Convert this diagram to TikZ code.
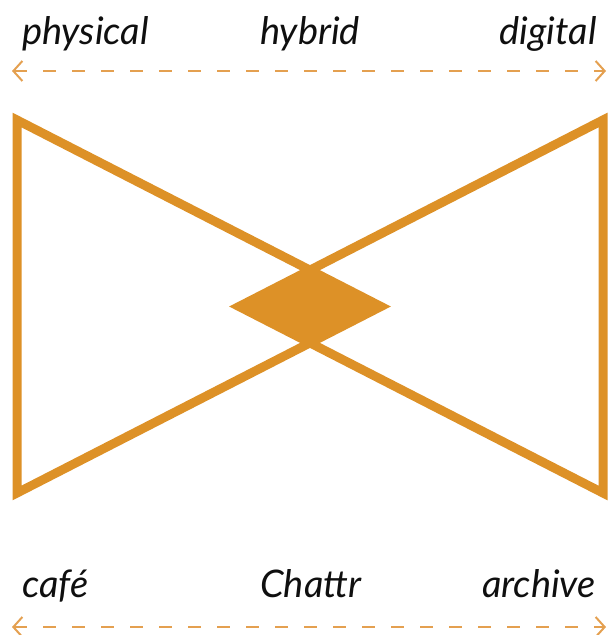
\documentclass[tikz,border=0pt]{standalone}
\usepackage{fontspec}
\setmainfont{Lato}
\usepackage{tikz}
\usetikzlibrary{arrows.meta, positioning, calc}
\definecolor{myorange}{RGB}{221,145,39}
\definecolor{mydash}{RGB}{228,160,80}
\definecolor{mytext}{RGB}{15,15,15}
\tikzset{
  lbl/.style={inner sep=0pt, font=\fontsize{38}{44}\selectfont\itshape, text=mytext},
  bowline/.style={draw=myorange, line width=9pt, line join=miter},
  overlap/.style={fill=myorange},
  scalearrow/.style={{Straight Barb[length=9pt,width=20pt,line width=2pt]}-{Straight Barb[length=9pt,width=20pt,line width=2pt]},
    draw=mydash, line width=2pt, dash pattern=on 13pt off 16pt}
}

\begin{document}
\begin{tikzpicture}[x=1pt, y=-1pt]
  \useasboundingbox (0,0) rectangle (608,635);
  % top labels
  \node[lbl, anchor=base west] (phys) at (22,44) {physical};
  \node[lbl, anchor=base west] (hyb) at (260,44) {hybrid};
  \node[lbl, anchor=base east] (dig) at (597,44) {digital};
  % top scale
  \coordinate (tA) at (12,71);
  \coordinate (tB) at (606,71);
  \draw[scalearrow] (tA) -- (tB);
  % left triangle
  \coordinate (tl) at (17,120);
  \coordinate (bl) at (17,493);
  \coordinate (lapex) at (381,306.5);
  % right triangle
  \coordinate (tr) at (603,120);
  \coordinate (br) at (603,493);
  \coordinate (rapex) at (239,306.5);
  % overlap
  \coordinate (ctop) at (310,270);
  \coordinate (cbot) at (310,343);
  \fill[overlap] (rapex) -- (ctop) -- (lapex) -- (cbot) -- cycle;
  \draw[bowline] (tl) -- (bl) -- (lapex) -- cycle;
  \draw[bowline] (tr) -- (br) -- (rapex) -- cycle;
  % bottom labels
  \node[lbl, anchor=base west] (cafe) at (22,597) {café};
  \node[lbl, anchor=base west] (chat) at (260,597) {Chattr};
  \node[lbl, anchor=base east] (arch) at (596,597) {archive};
  % bottom scale
  \coordinate (bA) at (12,627);
  \coordinate (bB) at (606,627);
  \draw[scalearrow] (bA) -- (bB);
\end{tikzpicture}
\end{document}
